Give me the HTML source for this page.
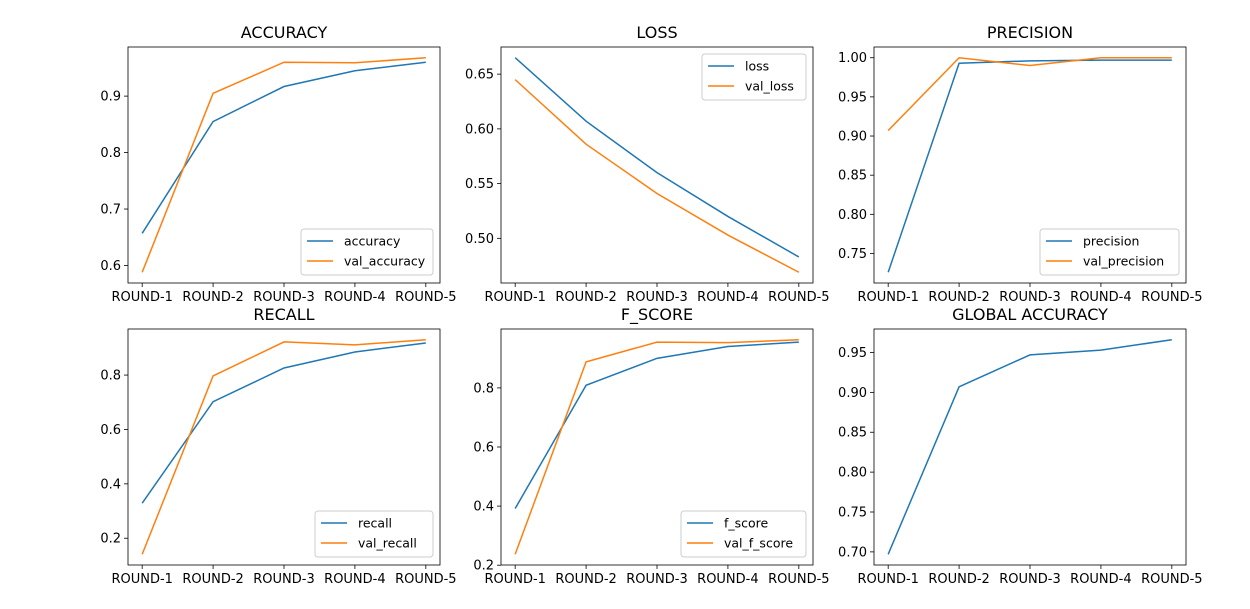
<!DOCTYPE html>
<html><head><meta charset="utf-8"><style>
html,body{margin:0;padding:0;background:#fff;}
svg{display:block;font-family:"DejaVu Sans","Liberation Sans",sans-serif;}
</style></head><body>
<svg id="fig" width="1250" height="609" viewBox="0 0 1250 609" xmlns="http://www.w3.org/2000/svg"></svg>
<script>
const rounds = ["ROUND-1","ROUND-2","ROUND-3","ROUND-4","ROUND-5"];
const accuracy = [0.657,0.855,0.917,0.945,0.960];
const valAccuracy = [0.588,0.905,0.960,0.959,0.968];
const loss = [0.665,0.607,0.560,0.520,0.483];
const valLoss = [0.645,0.586,0.541,0.503,0.469];
const precision = [0.726,0.993,0.996,0.997,0.997];
const valPrecision = [0.907,1.000,0.990,1.000,1.000];
const recall = [0.329,0.702,0.826,0.885,0.918];
const valRecall = [0.141,0.797,0.922,0.911,0.930];
const fScore = [0.392,0.809,0.900,0.940,0.955];
const valFScore = [0.237,0.888,0.955,0.953,0.963];
const globalAccuracy = [0.697,0.907,0.947,0.953,0.966];
const accTicks = [0.6,0.7,0.8,0.9];
const lossTicks = [0.50,0.55,0.60,0.65];
const precTicks = [0.75,0.80,0.85,0.90,0.95,1.00];
const recallTicks = [0.2,0.4,0.6,0.8];
const fTicks = [0.2,0.4,0.6,0.8];
const globalTicks = [0.70,0.75,0.80,0.85,0.90,0.95];

const NS="http://www.w3.org/2000/svg";
const svg=document.getElementById('fig');
function mk(tag,attrs,parent){const e=document.createElementNS(NS,tag);for(const k in attrs)e.setAttribute(k,attrs[k]);(parent||svg).appendChild(e);return e;}
const BLUE="#1f77b4",ORANGE="#ff7f0e";
const panels=[
 {title:"ACCURACY",x:128,y:47,series:[["accuracy",accuracy,BLUE],["val_accuracy",valAccuracy,ORANGE]],ticks:accTicks,dec:1,legend:"lr"},
 {title:"LOSS",x:501,y:47,series:[["loss",loss,BLUE],["val_loss",valLoss,ORANGE]],ticks:lossTicks,dec:2,legend:"ur"},
 {title:"PRECISION",x:874,y:47,series:[["precision",precision,BLUE],["val_precision",valPrecision,ORANGE]],ticks:precTicks,dec:2,legend:"lr"},
 {title:"RECALL",x:128,y:329,series:[["recall",recall,BLUE],["val_recall",valRecall,ORANGE]],ticks:recallTicks,dec:1,legend:"lr"},
 {title:"F_SCORE",x:501,y:329,series:[["f_score",fScore,BLUE],["val_f_score",valFScore,ORANGE]],ticks:fTicks,dec:1,legend:"lr"},
 {title:"GLOBAL ACCURACY",x:874,y:329,series:[["global_accuracy",globalAccuracy,BLUE]],ticks:globalTicks,dec:2,legend:null}
];
const W=312,H=236;
panels.forEach(p=>{
  const g=mk('g',{});
  const slug=p.title.toLowerCase().replace(/[^a-z]+/g,'-');
  
  
  let all=[];p.series.forEach(s=>all=all.concat(s[1]));
  const mn=Math.min(...all),mx=Math.max(...all),pad=(mx-mn)*0.05;
  const y0=mn-pad,y1=mx+pad;
  const sx=i=>p.x+W*(i+0.2)/4.4;
  const sy=v=>p.y+H*(y1-v)/(y1-y0);
  const t=mk('text',{x:p.x+W/2,y:p.y-9,'text-anchor':'middle','font-size':16,fill:'#000'},g);t.textContent=p.title;
  
  
  rounds.forEach((r,i)=>{
    const x=sx(i);
    mk('line',{x1:x,x2:x,y1:p.y+H,y2:p.y+H+4,stroke:'#000','stroke-width':0.8},g);
    const l=mk('text',{x:x,y:p.y+H+18,'text-anchor':'middle','font-size':13,fill:'#000'},g);l.textContent=r;
    
    
  });
  p.ticks.forEach(v=>{
    const y=sy(v);
    mk('line',{x1:p.x-4,x2:p.x,y1:y,y2:y,stroke:'#000','stroke-width':0.8},g);
    const l=mk('text',{x:p.x-7,y:y+4.5,'text-anchor':'end','font-size':13,fill:'#000'},g);l.textContent=v.toFixed(p.dec);
    
    
  });
  p.series.forEach(s=>{
    const pl=mk('polyline',{points:s[1].map((v,i)=>sx(i)+','+sy(v)).join(' '),fill:'none',stroke:s[2],'stroke-width':1.5},g);
    
    
  });
  mk('rect',{x:p.x,y:p.y,width:W,height:H,fill:'none',stroke:'#000','stroke-width':0.8},g);
  if(p.legend){
    const lw=Math.max(...p.series.map(s=>s[0].length))*7+48, lh=46;
    const lx=p.x+W-7-lw, ly=p.legend==='lr'?p.y+H-8-lh:p.y+7;
    const lg=mk('g',{},g);
    
    
    mk('rect',{x:lx,y:ly,width:lw,height:lh,rx:3,fill:'#fff','fill-opacity':0.8,stroke:'#ccc'},lg);
    p.series.forEach((s,k)=>{
      const yy=ly+12+k*20;
      mk('line',{x1:lx+6,x2:lx+32,y1:yy,y2:yy,stroke:s[2],'stroke-width':1.5},lg);
      const tt=mk('text',{x:lx+43,y:yy+4.5,'font-size':12.5,fill:'#000'},lg);tt.textContent=s[0];
      
      
    });
  }
});
</script>
</body></html>
